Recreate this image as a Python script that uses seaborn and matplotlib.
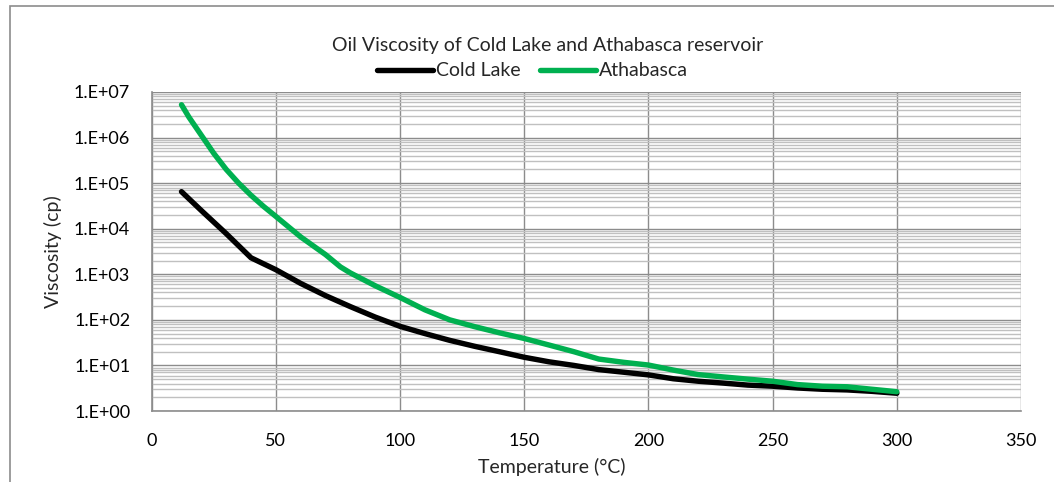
import numpy as np
import pandas as pd
import seaborn as sns
import matplotlib
matplotlib.use("Agg")
import matplotlib.pyplot as plt
from matplotlib.patches import Rectangle
from matplotlib.ticker import LogLocator, FixedLocator, NullFormatter

# Temperature (°C) and oil viscosity (cp)
cold_temperature = [12, 20, 30, 40, 50, 60, 70, 80, 90, 100, 110, 120, 130, 140, 150,
                    160, 170, 180, 190, 200, 210, 220, 230, 240, 250, 260, 270, 280, 290, 300]
cold_lake = [65000, 25000, 7800, 2300, 1260, 630, 340, 195, 115, 72, 50, 35.5, 26.3, 20, 15.1,
             12.0, 10.0, 8.1, 7.1, 6.2, 5.1, 4.5, 4.1, 3.7, 3.5, 3.2, 3.0, 2.9, 2.7, 2.45]
atha_temperature = [12, 15, 20, 25, 30, 35, 40, 45, 50, 60, 70, 76, 80, 90, 100, 110, 120, 130,
                    140, 150, 160, 170, 180, 190, 200, 210, 220, 230, 240, 250, 260, 270, 280,
                    290, 300]
athabasca = [5.25e6, 2.8e6, 1.12e6, 4.5e5, 2.0e5, 1.0e5, 5.4e4, 3.1e4, 1.86e4, 6600, 2700, 1450,
             1070, 560, 310, 166, 100, 71, 52, 39, 28, 20, 13.8, 11.7, 10.2, 7.9, 6.3, 5.6, 5.0,
             4.5, 3.8, 3.5, 3.4, 3.0, 2.65]
series_names = ["Cold Lake", "Athabasca"]
series_colors = ["#000000", "#00B050"]
x_ticks = [0, 50, 100, 150, 200, 250, 300, 350]
y_ticks = [1e0, 1e1, 1e2, 1e3, 1e4, 1e5, 1e6, 1e7]
y_tick_labels = ["1.E+00", "1.E+01", "1.E+02", "1.E+03", "1.E+04", "1.E+05", "1.E+06", "1.E+07"]

df = pd.DataFrame({
    "Temperature": cold_temperature + atha_temperature,
    "Viscosity": cold_lake + athabasca,
    "Reservoir": [series_names[0]] * len(cold_temperature)
                 + [series_names[1]] * len(atha_temperature),
})

sns.set_style("white")
plt.rcParams["font.family"] = ["Lato", "DejaVu Sans"]
FS_TICK = 13
FS_TEXT = 14
W, H = 1054, 482
fig = plt.figure(figsize=(W / 100, H / 100), dpi=100)
ax = fig.add_axes([151.7 / W, 1 - 411 / H, (1021 - 151.7) / W, (411 - 92) / H])

# outer chart frame
fig.patches.append(Rectangle((10 / W, -0.2), 1.5, 1.2 - 6 / H, transform=fig.transFigure,
                             fill=False, edgecolor="#8c8c8c", linewidth=1.2, zorder=0))

sns.lineplot(data=df, x="Temperature", y="Viscosity", hue="Reservoir",
             palette=dict(zip(series_names, series_colors)), linewidth=3.9,
             ax=ax, legend=False, solid_capstyle="round", solid_joinstyle="round", zorder=5)

ax.set_yscale("log")
ax.set_xlim(0, 350)
ax.set_ylim(1, 1e7)
ax.xaxis.set_major_locator(FixedLocator(x_ticks))
ax.set_xticklabels([str(t) for t in x_ticks])
ax.yaxis.set_major_locator(FixedLocator(y_ticks))
ax.set_yticklabels(y_tick_labels)
ax.yaxis.set_minor_locator(LogLocator(base=10, subs=np.arange(2, 10), numticks=20))
ax.yaxis.set_minor_formatter(NullFormatter())

ax.grid(which="major", axis="both", color="#8c8c8c", linewidth=1.0, zorder=1)
ax.grid(which="minor", axis="y", color="#c0c0c0", linewidth=1.0, zorder=1)
ax.set_axisbelow(True)

for side in ["top", "right"]:
    ax.spines[side].set_visible(False)
for side in ["left", "bottom"]:
    ax.spines[side].set_color("#8c8c8c")
    ax.spines[side].set_linewidth(1.2)

ax.tick_params(axis="both", which="major", direction="out", length=4.5, width=1,
               color="#8c8c8c", labelsize=FS_TICK, labelcolor="#000000", pad=11)
ax.tick_params(axis="y", which="minor", length=0)
ax.set_xlabel("")
ax.set_ylabel("")

fig.text(547.5 / W, 1 - 45 / H, "Oil Viscosity of Cold Lake and Athabasca reservoir",
         ha="center", va="center", fontsize=FS_TEXT)
fig.text(552 / W, 1 - 467 / H, "Temperature (°C)", ha="center", va="center", fontsize=FS_TEXT)
fig.text(53 / W, 1 - 251.5 / H, "Viscosity (cp)", ha="center", va="center",
         rotation=90, fontsize=FS_TEXT)

handles = [plt.Line2D([], [], color=c, linewidth=3.9, solid_capstyle="round")
           for c in series_colors]
fig.legend(handles, series_names, loc="center", bbox_to_anchor=(532.5 / W, 1 - 71 / H),
           ncol=2, frameon=False, fontsize=FS_TEXT, handlelength=2.9, handletextpad=0.15,
           columnspacing=1.0, borderpad=0, borderaxespad=0)

fig.savefig("out.png", dpi=100)
